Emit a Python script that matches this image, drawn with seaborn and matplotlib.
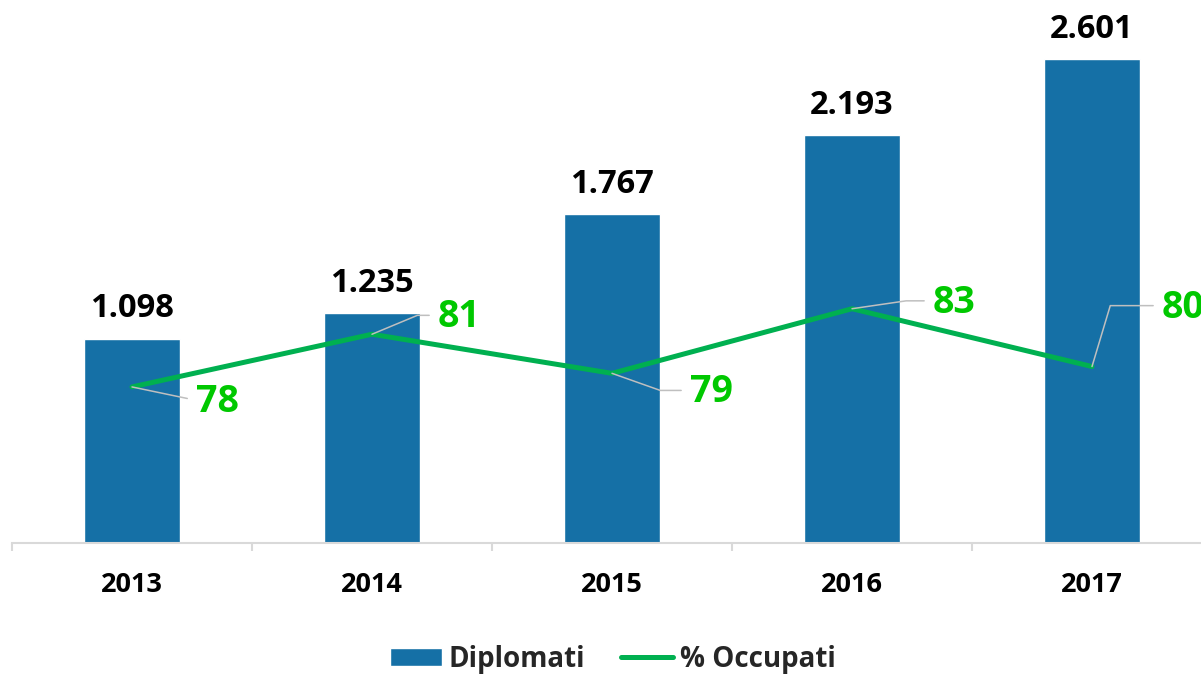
import numpy as np
import pandas as pd
import matplotlib
matplotlib.use('Agg')
import matplotlib.pyplot as plt
import seaborn as sns

# Data
years = ['2013', '2014', '2015', '2016', '2017']
diplomati = [1098, 1235, 1767, 2193, 2601]
occupati = [78.3, 81.4, 79.1, 82.9, 79.5]

# label offsets (pixels) and leader angles for the % labels
lab_dx = [64, 66, 78, 81, 70]
lab_dy = [-15, 17, -19, 6, 59]
lab_ang = [-11.8, 22.6, -19.5, 8.3, 73.3]

bar_col = '#1570A6'
line_col = '#00B050'
lab_col = '#00C800'
grid_col = '#D9D9D9'

sns.set_theme(style='white')
plt.rcParams['font.family'] = ['Open Sans', 'DejaVu Sans']
plt.rcParams['font.weight'] = 'bold'

df = pd.DataFrame({'anno': years, 'Diplomati': diplomati, 'Occupati': occupati})

fig = plt.figure(figsize=(12.01, 6.75), dpi=100)
ax = fig.add_axes([12 / 1201, 132 / 675, 1200 / 1201, 543 / 675])

sns.barplot(data=df, x='anno', y='Diplomati', color=bar_col, width=0.4,
            saturation=1, ax=ax, label='Diplomati')
ax.set_xlim(-0.5, 4.5)
ax.set_ylim(0, 2917)
labels = [f'{v:,}'.replace(',', '.') for v in diplomati]
ax.bar_label(ax.containers[0], labels=labels, padding=9.5, fontsize=23.5,
             fontweight='bold', color='black')

ax2 = ax.twinx()
sns.lineplot(x=np.arange(len(years)), y=df['Occupati'], ax=ax2, color=line_col,
             linewidth=3.6, label='% Occupati', legend=False)
ax2.set_ylim(69.12, 101.06)
ax2.set_xlim(-0.5, 4.5)

for i, v in enumerate(occupati):
    ax2.annotate(f'{v:.0f}', xy=(i, v), xytext=(lab_dx[i], lab_dy[i]),
                 textcoords='offset pixels', ha='left', va='center',
                 fontsize=27, fontweight='bold', color=lab_col,
                 arrowprops=dict(arrowstyle='-', color='#BFBFBF', lw=1.1,
                                 shrinkA=4, shrinkB=0, relpos=(0, 0.55),
                                 connectionstyle=f'angle,angleA=0,angleB={lab_ang[i]},rad=0'))

for a in (ax, ax2):
    for s in ['top', 'right', 'left']:
        a.spines[s].set_visible(False)
    a.set_yticks([])
    a.set_ylabel('')
ax2.spines['bottom'].set_visible(False)
ax.spines['bottom'].set_color(grid_col)
ax.spines['bottom'].set_linewidth(1.5)

ax.set_xlabel('')
ax.set_xticks(range(len(years)))
ax.set_xticklabels(years, fontsize=19.5, fontweight='bold')
ax.tick_params(axis='x', which='major', length=0, pad=21, colors='black')
ax.set_xticks(np.arange(-0.5, 4.6, 1.0), minor=True)
ax.tick_params(axis='x', which='minor', length=6, width=1.5, color=grid_col, bottom=True)

h1, l1 = ax.get_legend_handles_labels()
h2, l2 = ax2.get_legend_handles_labels()
if ax.get_legend():
    ax.get_legend().remove()
fig.legend(h1 + h2, l1 + l2, loc='center', bbox_to_anchor=(613 / 1201, 16 / 675),
           ncol=2, frameon=False, handlelength=1.85, handleheight=0.6,
           handletextpad=0.25, columnspacing=1.3,
           prop={'weight': 'bold', 'size': 20})

fig.savefig('out.png', dpi=100)
